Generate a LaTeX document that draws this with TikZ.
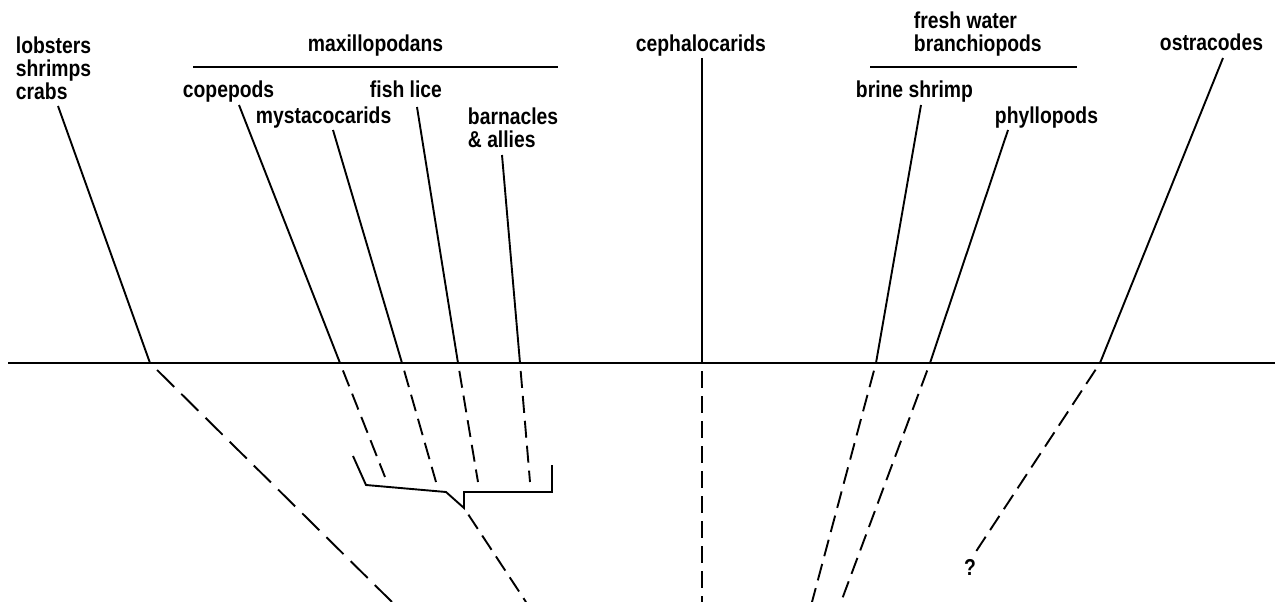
\documentclass[tikz,border=0pt]{standalone}
\usepackage{fontspec}
\newfontfamily\labelfont[FakeStretch=0.84]{Liberation Sans}
\usepackage{tikz}

\begin{document}
\begin{tikzpicture}[x=1pt, y=-1pt, line width=1.9pt,
  every node/.style={inner sep=0pt, font=\labelfont\bfseries\fontsize{23}{23}\selectfont},
  taxon/.style={anchor=base west},
  stack/.style={anchor=north west, align=left},
  fossil/.style={dash pattern=on 17pt off 8pt, dash phase=17pt},
  longfossil/.style={dash pattern=on 24pt off 10pt, dash phase=24pt}]
  \useasboundingbox (0,0) rectangle (1275,602);

  \node[stack] (lob) at (15,36) {lobsters\\shrimps\\crabs};
  \node[taxon] (maxi) at (307,52) {maxillopodans};
  \node[taxon] (cope) at (182,98) {copepods};
  \node[taxon] (myst) at (255,123) {mystacocarids};
  \node[taxon] (fish) at (369,98) {fish lice};
  \node[stack] (barn) at (467,107) {barnacles\\\& allies};
  \node[taxon] (ceph) at (635,52) {cephalocarids};
  \node[stack] (fresh) at (913,11) {fresh water\\branchiopods};
  \node[taxon] (brine) at (855,98) {brine shrimp};
  \node[taxon] (phyl) at (994,123) {phyllopods};
  \node[taxon] (ostr) at (1159,51) {ostracodes};
  \node[anchor=base] (query) at (970,575) {?};

  \coordinate (axis-l) at (8,363);
  \coordinate (axis-r) at (1275,363);
  \draw (axis-l) -- (axis-r);

  \coordinate (maxi-l) at (193,67);
  \coordinate (maxi-r) at (558,67);
  \coordinate (fresh-l) at (870,67);
  \coordinate (fresh-r) at (1077,67);
  \draw (maxi-l) -- (maxi-r);
  \draw (fresh-l) -- (fresh-r);

  \coordinate (lob-top) at (58,106);   \coordinate (lob-base) at (150,363);   \coordinate (lob-end) at (392,602);
  \coordinate (cope-top) at (239,105); \coordinate (cope-base) at (340,363);  \coordinate (cope-end) at (385,477);
  \coordinate (myst-top) at (333,130); \coordinate (myst-base) at (402,363);  \coordinate (myst-end) at (436,482);
  \coordinate (fish-top) at (417,107); \coordinate (fish-base) at (458,363);  \coordinate (fish-end) at (478,482);
  \coordinate (barn-top) at (502,155); \coordinate (barn-base) at (520,363);  \coordinate (barn-end) at (530,482);
  \coordinate (ceph-top) at (702,58);  \coordinate (ceph-base) at (702,363);  \coordinate (ceph-end) at (702,602);
  \coordinate (brine-top) at (921,105); \coordinate (brine-base) at (876,363); \coordinate (brine-end) at (812,602);
  \coordinate (phyl-top) at (1008,130); \coordinate (phyl-base) at (930,363); \coordinate (phyl-end) at (841,602);
  \coordinate (ostr-top) at (1223,58); \coordinate (ostr-base) at (1100,363); \coordinate (ostr-end) at (975,553);

  \foreach \t in {lob,cope,myst,fish,barn,ceph,brine,phyl,ostr}
    \draw (\t-top) -- (\t-base);
  \draw[longfossil] (lob-base) -- (lob-end);
  \foreach \t in {cope,myst,fish,barn,ceph,brine,phyl,ostr}
    \draw[fossil] (\t-base) -- (\t-end);

  \coordinate (br-a) at (353,456);
  \coordinate (br-b) at (366,485);
  \coordinate (br-c) at (446,492);
  \coordinate (br-tip) at (464,508);
  \coordinate (br-d) at (464,492);
  \coordinate (br-e) at (552,492);
  \coordinate (br-f) at (552,465);
  \coordinate (maxi-end) at (526,602);
  \draw (br-a) -- (br-b) -- (br-c) -- (br-tip) -- (br-d) -- (br-e) -- (br-f);
  \draw[fossil] (br-tip) -- (maxi-end);
\end{tikzpicture}
\end{document}
